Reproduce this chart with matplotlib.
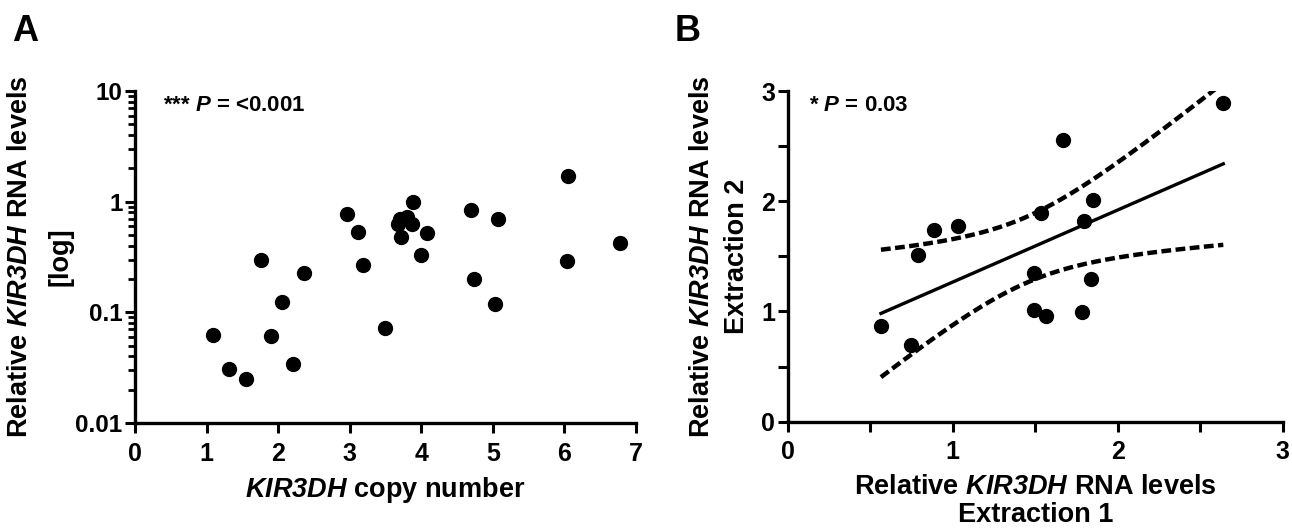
import numpy as np
import matplotlib.pyplot as plt
from matplotlib.ticker import FixedLocator, LogLocator, FuncFormatter, MultipleLocator

plt.rcParams['font.family'] = 'Liberation Sans'
plt.rcParams['font.weight'] = 'bold'
plt.rcParams['axes.labelweight'] = 'bold'
plt.rcParams['mathtext.fontset'] = 'custom'
plt.rcParams['mathtext.cal'] = 'Liberation Sans:italic:bold'
plt.rcParams['mathtext.rm'] = 'Liberation Sans:bold'

# Panel A: copy number vs relative RNA level (log)
copy_number = [1.09, 1.31, 1.55, 1.76, 1.90, 2.06, 2.21, 2.36, 2.96, 3.12, 3.18, 3.49,
               3.70, 3.68, 3.71, 3.80, 3.87, 3.89, 3.99, 4.08, 4.70, 4.73, 5.03, 5.07,
               6.05, 6.04, 6.78]
rna_level = [0.062, 0.031, 0.025, 0.30, 0.061, 0.124, 0.034, 0.228, 0.78, 0.53, 0.27, 0.072,
             0.70, 0.63, 0.48, 0.72, 0.63, 0.99, 0.33, 0.52, 0.84, 0.20, 0.119, 0.70,
             1.72, 0.29, 0.42]

# Panel B: extraction 1 vs extraction 2
extraction1 = [0.565, 0.745, 0.788, 0.885, 1.032, 1.495, 1.495, 1.533, 1.564, 1.670,
               1.785, 1.798, 1.836, 1.852, 2.640]
extraction2 = [0.864, 0.70, 1.515, 1.736, 1.773, 1.349, 1.015, 1.894, 0.955, 2.552,
               0.994, 1.825, 1.297, 2.009, 2.894]

gene = '$\\mathcal{KIR3DH}$'
p_text_a = '*** $\\mathcal{P}$ = <0.001'
p_text_b = '* $\\mathcal{P}$ = 0.03'

fig = plt.figure(figsize=(12.92, 5.30), dpi=100)
axA = fig.add_axes([0.1045, 0.2019, 0.3878, 0.6264])
axB = fig.add_axes([0.6097, 0.2043, 0.3831, 0.6240])


def style_axes(ax):
    for s in ['top', 'right']:
        ax.spines[s].set_visible(False)
    for s in ['left', 'bottom']:
        ax.spines[s].set_linewidth(2.4)
    ax.tick_params(which='major', length=7.5, width=2.2, labelsize=18, pad=6)
    ax.tick_params(which='minor', length=5, width=2.0)
    ax.tick_params(axis='y', which='major', pad=1.5)


# ---- Panel A
axA.scatter(copy_number, rna_level, s=100, color='black', zorder=3, clip_on=False)
axA.set_yscale('log')
axA.set_xlim(0, 7)
axA.set_ylim(0.01, 10)
axA.xaxis.set_major_locator(FixedLocator(range(0, 8)))
axA.yaxis.set_major_locator(FixedLocator([0.01, 0.1, 1, 10]))
axA.yaxis.set_major_formatter(FuncFormatter(lambda v, p: f'{v:g}'))
axA.yaxis.set_minor_locator(LogLocator(base=10, subs=np.arange(2, 10)))
axA.yaxis.set_minor_formatter(FuncFormatter(lambda v, p: ''))
style_axes(axA)
axA.tick_params(axis='y', which='major', labelsize=17.5)
axA.set_xlabel(gene + ' copy number', fontsize=19.5, labelpad=7)
axA.set_ylabel('Relative ' + gene + ' RNA levels\n[log]', fontsize=19.5, linespacing=1.75)
axA.yaxis.set_label_coords(-0.122, 0.5)
axA.text(0.056, 0.955, p_text_a, transform=axA.transAxes, fontsize=16, va='center', ha='left')

# ---- Panel B
x1 = np.array(extraction1)
y2 = np.array(extraction2)
n = len(x1)
slope, intercept = np.polyfit(x1, y2, 1)
xs = np.linspace(x1.min(), x1.max(), 200)
fit = slope * xs + intercept
resid = y2 - (slope * x1 + intercept)
s_err = np.sqrt(np.sum(resid ** 2) / (n - 2))
t_val = 2.160  # t(0.975, df=13)
ci = t_val * s_err * np.sqrt(1 / n + (xs - x1.mean()) ** 2 / np.sum((x1 - x1.mean()) ** 2))

axB.scatter(x1, y2, s=100, color='black', zorder=3, clip_on=False)
axB.plot(xs, fit, color='black', lw=2.4)
axB.plot(xs, fit + ci, color='black', lw=3.2, dashes=(2.2, 1.0))
axB.plot(xs, fit - ci, color='black', lw=3.2, dashes=(2.2, 1.0))
axB.set_xlim(0, 3)
axB.set_ylim(0, 3)
axB.xaxis.set_major_locator(MultipleLocator(1))
axB.xaxis.set_minor_locator(MultipleLocator(0.5))
axB.yaxis.set_major_locator(MultipleLocator(1))
axB.yaxis.set_minor_locator(MultipleLocator(0.5))
style_axes(axB)
axB.tick_params(which='minor', length=7.5, width=2.2)
axB.set_xlabel('Relative ' + gene + ' RNA levels\nExtraction 1', fontsize=19.5,
               labelpad=7, linespacing=1.1)
axB.set_ylabel('Relative ' + gene + ' RNA levels\nExtraction 2', fontsize=19.5, linespacing=1.45)
axB.yaxis.set_label_coords(-0.076, 0.5)
axB.text(0.042, 0.955, p_text_b, transform=axB.transAxes, fontsize=16, va='center', ha='left')

fig.text(0.009, 0.94, 'A', fontsize=26, va='center', ha='left')
fig.text(0.522, 0.94, 'B', fontsize=26, va='center', ha='left')

fig.savefig('out.png', dpi=100)
